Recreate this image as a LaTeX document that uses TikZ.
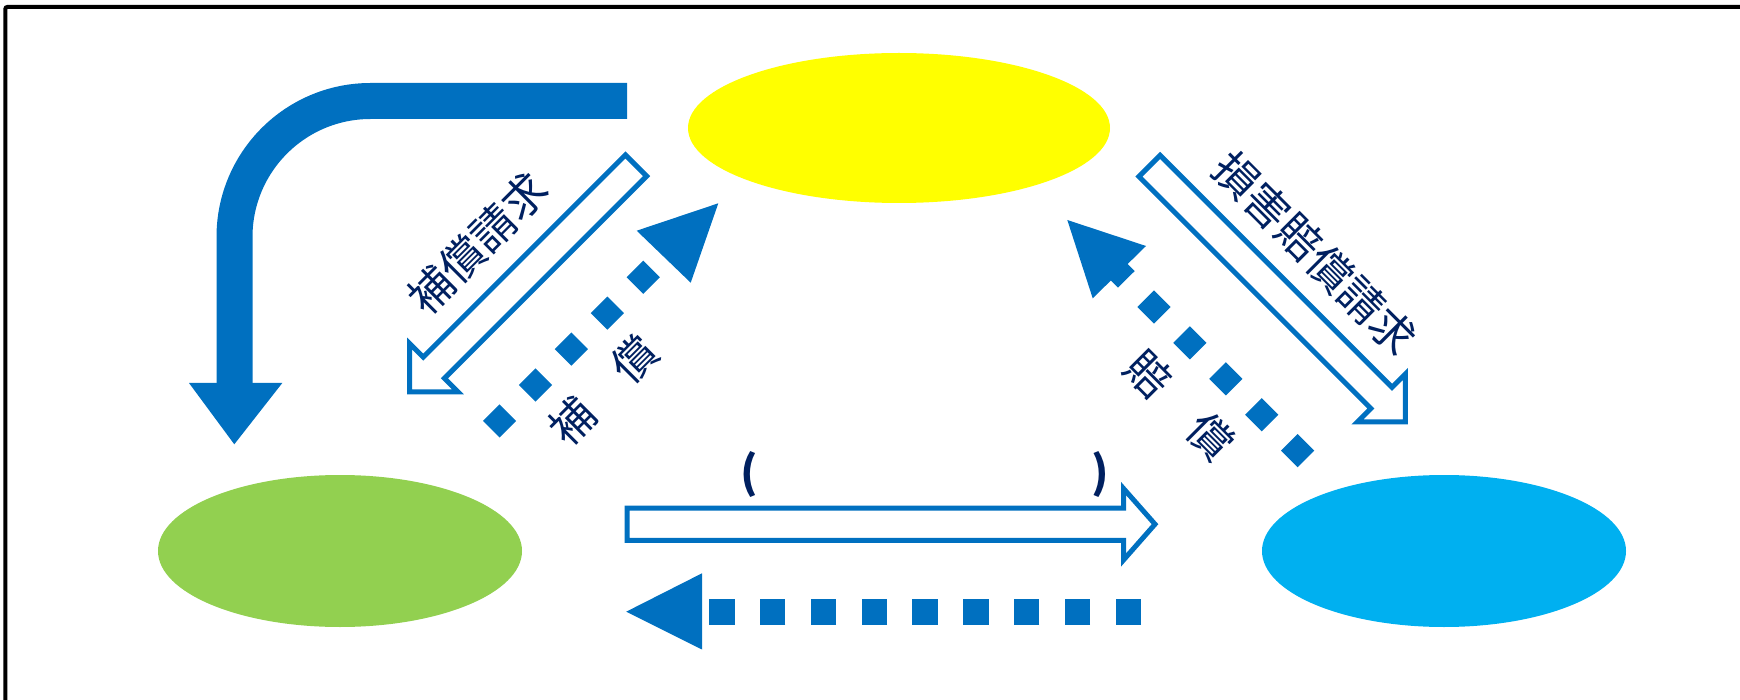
\documentclass[tikz,border=0pt]{standalone}
\usepackage{fontspec}
\newfontfamily\cjk{Noto Sans CJK JP}
\usepackage{tikz}
\usetikzlibrary{shapes.geometric}
\definecolor{arrowblue}{HTML}{0070C0}
\definecolor{textnavy}{HTML}{002060}
\definecolor{ovalyellow}{HTML}{FFFF00}
\definecolor{ovalgreen}{HTML}{92D050}
\definecolor{ovalcyan}{HTML}{00B0F0}
\tikzset{
  oval/.style={ellipse, inner sep=0pt, minimum width=364pt, minimum height=152pt},
  hollow/.style={draw=arrowblue, line width=5pt, fill=white},
  squares/.style={draw=arrowblue, line width=23.5pt, dash pattern=on 23.5pt off 27.3pt},
  jptext/.style={text=textnavy, inner sep=0pt, font=\cjk\fontsize{44}{44}\selectfont},
}

\begin{document}
\begin{tikzpicture}[x=1pt, y=-1pt]
      \useasboundingbox (0,0) rectangle (1740,700);
      \draw [line width=4pt, rounded corners=2pt] (1740,7) -- (5.3,7) -- (5.3,700);

      % ovals
      \node [oval, fill=ovalyellow, minimum width=422pt, minimum height=150pt] (topOval) at (899,128) {};
      \node [oval, fill=ovalgreen] (leftOval) at (340,551) {};
      \node [oval, fill=ovalcyan] (rightOval) at (1444,551) {};

      % bent arrow
      \coordinate (bendA) at (627,101);
      \coordinate (bendB) at (234.5,101);
      \coordinate (bendC) at (234.5,384);
      \draw [arrowblue, line width=36pt, rounded corners=136pt] (bendA) -- (bendB) -- (bendC);
      \fill [arrowblue] (189,383) -- (282.3,383) -- (234.3,444.3) -- cycle;

      % hollow arrows
      \begin{scope}[shift={(636,165.5)}, rotate=225]
        \draw [hollow] (0,-15) -- (286,-15) -- (286,-34) -- (320,0) -- (286,34) -- (286,15) -- (0,15) -- cycle;
      \end{scope}
      \begin{scope}[shift={(1149.5,166)}, rotate=-45]
        \draw [hollow] (0,-15) -- (328,-15) -- (328,-34) -- (362,0) -- (328,34) -- (328,15) -- (0,15) -- cycle;
      \end{scope}
      \draw [hollow] (627,508) -- (1123.5,508) -- (1123.5,488.5) -- (1155,524.2) -- (1123.5,560) -- (1123.5,540.4) -- (627,540.4) -- cycle;

      % dotted arrows
      \coordinate (leftDotA) at (651.5,268.9);
      \coordinate (leftDotB) at (491.2,429.2);
      \draw [squares] (leftDotA) -- (leftDotB);
      \fill [arrowblue] (718.3,203.3) -- (636.7,230.7) -- (690.7,282.7) -- cycle;

      \coordinate (rightDotA) at (1109.8,262.7);
      \coordinate (rightDotB) at (1306.3,459.3);
      \draw [squares] (rightDotA) -- (rightDotB);
      \fill [arrowblue] (1067.3,220) -- (1146,246) -- (1092.7,298.3) -- cycle;

      \coordinate (lowDotA) at (1141,612);
      \coordinate (lowDotB) at (709,612);
      \draw [squares, line width=26pt, dash pattern=on 25.5pt off 25.3pt] (lowDotA) -- (lowDotB);
      \fill [arrowblue] (626.2,611.7) -- (702,573.3) -- (702,649.5) -- cycle;

      % labels
      \node [jptext, rotate=45] (claimLeft) at (477.5,243.3) {補償請求};
      \node [jptext, rotate=-45] (claimRight) at (1315,253.3) {損害賠償請求};
      \node [jptext, rotate=45] (payLeft) at (603.3,390.5) {補　償};
      \node [jptext, rotate=-45] (payRight) at (1180,405) {賠　償};
      \node [jptext, font=\cjk\bfseries\fontsize{44}{44}\selectfont] (parOpen) at (749,475) {(};
      \node [jptext, font=\cjk\bfseries\fontsize{44}{44}\selectfont] (parClose) at (1099.8,475) {)};
\end{tikzpicture}
\end{document}
